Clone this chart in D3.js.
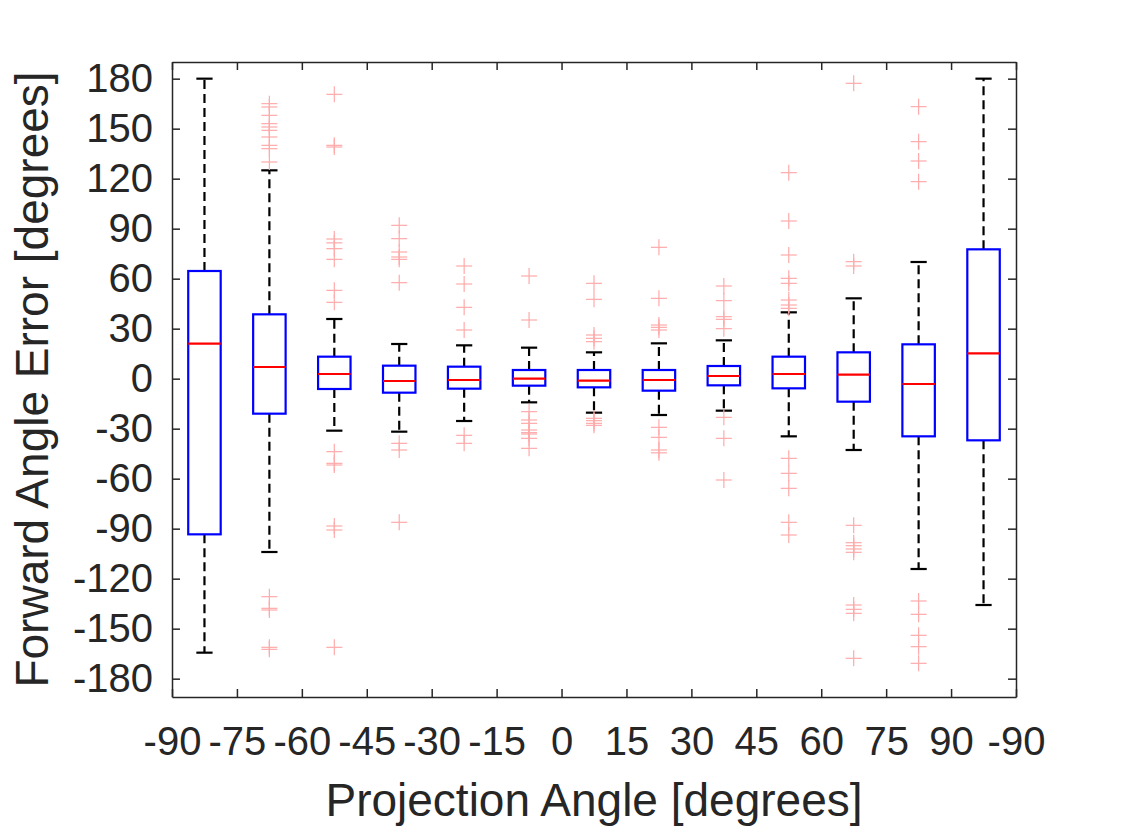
<!DOCTYPE html>
<html lang="en">
<head>
    <meta charset="UTF-8">
    <title>Forward Angle Error vs Projection Angle</title>
    <script src="https://d3js.org/d3.v7.min.js"></script>
    <style>
        body { margin: 0; background: #fff; }
        text { font-family: "Liberation Sans", Arial, Helvetica, sans-serif; fill: #262626; }
    </style>
</head>
<body>
    <svg id="chart"></svg>

    <script>
        // Tick labels along the x axis (boxes sit between ticks)
        const tickLabels = ["-90", "-75", "-60", "-45", "-30", "-15", "0", "15", "30", "45", "60", "75", "90", "-90"];
        const yTicks = [-180, -150, -120, -90, -60, -30, 0, 30, 60, 90, 120, 150, 180];

        // Box statistics, one entry per box
        const whiskerHigh = [180, 125, 35.8, 20.8, 20, 18.6, 15.8, 21.2, 23, 39.8, 48.2, 70, 180];
        const q3 = [64.6, 38.6, 13.2, 7.8, 7.2, 5.2, 5.2, 5.2, 7.6, 13.2, 15.8, 20.6, 77.6];
        const medians = [21, 7, 2.8, -1.4, -0.8, 0, -1.2, -0.8, 1.6, 2.8, 2.4, -3.2, 15.2];
        const q1 = [-93.4, -21, -6.2, -8.4, -6, -4.2, -5.2, -7.2, -4, -5.8, -13.8, -34.6, -37];
        const whiskerLow = [-164.4, -104, -31.2, -31.8, -25.4, -14.2, -20.4, -21.8, -19.2, -34.6, -42.8, -114.2, -135.8];

        const outliers = [
            [],
            [165, 163, 158, 153, 151, 149, 145, 140, 138, 130, -130.8, -137.8, -138.8, -161.2, -162.4],
            [170.6, 140, 139, 83.8, 81.5, 78, 71.6, 53, 45.8, -43.8, -50.8, -51.8, -88.4, -90.8, -161.2],
            [92, 84, 76, 73, 71.6, 57.6, -38.8, -42.8, -86.2],
            [67.6, 56.8, 42.8, 29.2, -34, -38.8],
            [61.6, 35.2, -19.8, -24.8, -26.8, -30.8, -32.4, -33.2, -35.8, -41.8],
            [57.2, 47.6, 26.2, 24.2, 22.2, -23.8, -25.2, -26.8, -28],
            [78.8, 48.2, 32.2, 30.8, 29.2, -29.2, -35.2, -42.8, -44.5],
            [55.6, 46.8, 37.2, 35.6, 30, -23.2, -35.8, -60.8],
            [123.6, 94.6, 74.2, 60.2, 57.2, 47.2, 44.2, 42.2, -47.8, -56.8, -65.8, -86.2, -93.8],
            [177.2, 70.2, 67.6, -88, -98.4, -100.2, -102.2, -104.2, -135.8, -138.4, -140.8, -167.8],
            [163.2, 142.2, 130.6, 118.2, -133.4, -141.4, -154, -160.8, -170.8],
            []
        ];

        const W = 1122, H = 827;
        const plot = { left: 172, right: 1016, top: 62, bottom: 697 };

        const svg = d3.select("#chart")
            .attr("width", W)
            .attr("height", H);

        svg.append("rect")
            .attr("width", W).attr("height", H)
            .attr("fill", "#fff");

        const x = d3.scaleLinear()
            .domain([0, tickLabels.length - 1])
            .range([plot.left, plot.right]);

        const y = d3.scaleLinear()
            .domain([-191, 190])
            .range([plot.bottom, plot.top]);

        const axisColor = "#262626";

        // Axes with inward ticks on all four sides
        const xAxis = svg.append("g")
            .attr("transform", `translate(0, ${plot.bottom})`)
            .call(d3.axisBottom(x)
                .tickValues(d3.range(tickLabels.length))
                .tickFormat(i => tickLabels[i])
                .tickSize(-8)
                .tickSizeOuter(0)
                .tickPadding(30));

        const xAxisTop = svg.append("g")
            .attr("transform", `translate(0, ${plot.top})`)
            .call(d3.axisTop(x)
                .tickValues(d3.range(tickLabels.length))
                .tickFormat("")
                .tickSize(-8)
                .tickSizeOuter(0));

        const yAxis = svg.append("g")
            .attr("transform", `translate(${plot.left}, 0)`)
            .call(d3.axisLeft(y)
                .tickValues(yTicks)
                .tickFormat(d => String(d))
                .tickSize(-8)
                .tickSizeOuter(0)
                .tickPadding(19));

        const yAxisRight = svg.append("g")
            .attr("transform", `translate(${plot.right}, 0)`)
            .call(d3.axisRight(y)
                .tickValues(yTicks)
                .tickFormat("")
                .tickSize(-8)
                .tickSizeOuter(0));

        [xAxis, xAxisTop, yAxis, yAxisRight].forEach(g => {
            g.selectAll("path.domain").attr("stroke", axisColor).attr("stroke-width", 1.5);
            g.selectAll(".tick line").attr("stroke", axisColor).attr("stroke-width", 1.5);
            g.selectAll(".tick text")
                .attr("fill", axisColor)
                .style("font-size", "40px")
                .style("font-family", "'Liberation Sans', Arial, Helvetica, sans-serif");
        });

        // Boxes
        const boxHalf = 0.25;   // in x units
        const capHalf = 0.125;
        const boxes = svg.append("g").selectAll("g.box")
            .data(d3.range(medians.length))
            .join("g")
            .attr("class", "box");

        // whiskers (dashed)
        boxes.append("line")
            .attr("x1", i => x(i + 0.5)).attr("x2", i => x(i + 0.5))
            .attr("y1", i => y(q3[i])).attr("y2", i => y(whiskerHigh[i]))
            .attr("stroke", "#000").attr("stroke-width", 2.2)
            .attr("stroke-dasharray", "9,5");

        boxes.append("line")
            .attr("x1", i => x(i + 0.5)).attr("x2", i => x(i + 0.5))
            .attr("y1", i => y(q1[i])).attr("y2", i => y(whiskerLow[i]))
            .attr("stroke", "#000").attr("stroke-width", 2.2)
            .attr("stroke-dasharray", "9,5");

        // caps
        boxes.append("line")
            .attr("x1", i => x(i + 0.5 - capHalf)).attr("x2", i => x(i + 0.5 + capHalf))
            .attr("y1", i => y(whiskerHigh[i])).attr("y2", i => y(whiskerHigh[i]))
            .attr("stroke", "#000").attr("stroke-width", 2.2);

        boxes.append("line")
            .attr("x1", i => x(i + 0.5 - capHalf)).attr("x2", i => x(i + 0.5 + capHalf))
            .attr("y1", i => y(whiskerLow[i])).attr("y2", i => y(whiskerLow[i]))
            .attr("stroke", "#000").attr("stroke-width", 2.2);

        // box body
        boxes.append("rect")
            .attr("x", i => x(i + 0.5 - boxHalf))
            .attr("width", i => x(i + 0.5 + boxHalf) - x(i + 0.5 - boxHalf))
            .attr("y", i => y(q3[i]))
            .attr("height", i => y(q1[i]) - y(q3[i]))
            .attr("fill", "none")
            .attr("stroke", "#0000ff")
            .attr("stroke-width", 2.2);

        // median
        boxes.append("line")
            .attr("x1", i => x(i + 0.5 - boxHalf)).attr("x2", i => x(i + 0.5 + boxHalf))
            .attr("y1", i => y(medians[i])).attr("y2", i => y(medians[i]))
            .attr("stroke", "#ff0000").attr("stroke-width", 2.2);

        // outliers as "+" markers
        const markerHalf = 8;
        const outlierData = outliers.flatMap((vals, i) => vals.map(v => ({ i, v })));
        const marks = svg.append("g").selectAll("g.outlier")
            .data(outlierData)
            .join("g")
            .attr("class", "outlier")
            .attr("transform", d => `translate(${x(d.i + 0.5)}, ${y(d.v)})`)
            .attr("stroke", "#ffaaaa")
            .attr("stroke-width", 1.2);

        marks.append("line").attr("x1", -markerHalf).attr("x2", markerHalf);
        marks.append("line").attr("y1", -markerHalf).attr("y2", markerHalf);

        // Axis titles
        svg.append("text")
            .attr("x", (plot.left + plot.right) / 2)
            .attr("y", 816)
            .attr("text-anchor", "middle")
            .style("font-size", "46px")
            .text("Projection Angle [degrees]");

        svg.append("text")
            .attr("transform", `translate(48, ${(plot.top + plot.bottom) / 2}) rotate(-90)`)
            .attr("text-anchor", "middle")
            .style("font-size", "46px")
            .text("Forward Angle Error [degrees]");
    </script>
</body>
</html>
